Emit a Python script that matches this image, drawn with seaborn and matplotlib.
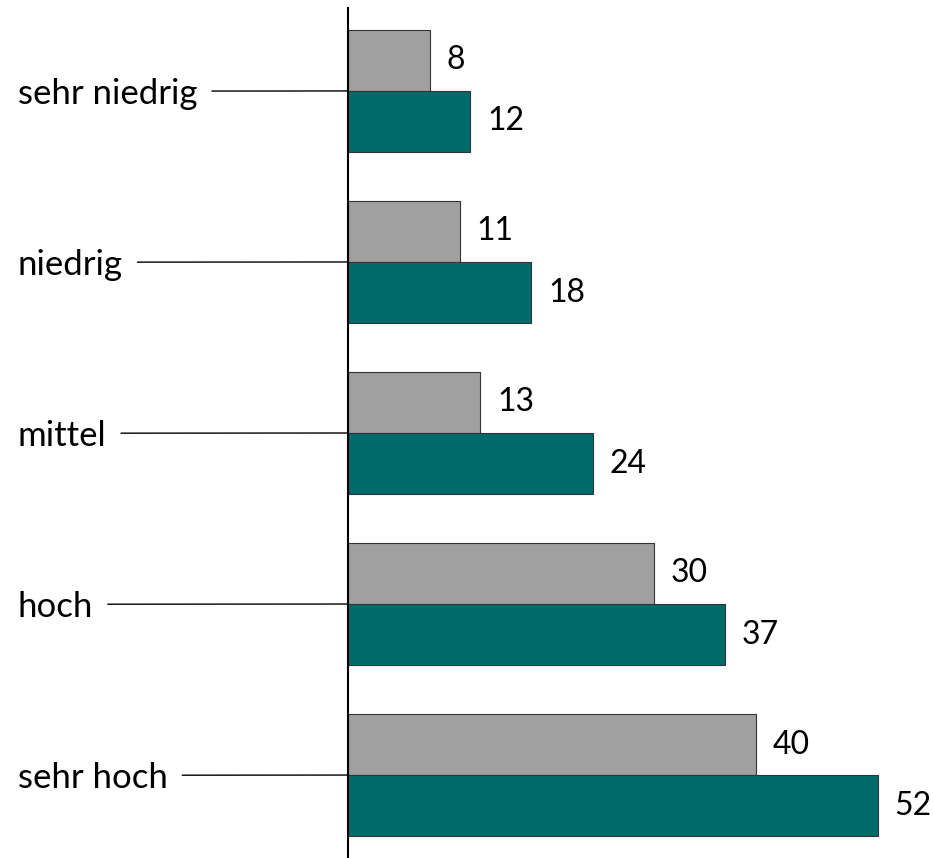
import matplotlib
matplotlib.use("Agg")
import matplotlib.pyplot as plt
import pandas as pd
import seaborn as sns

categories = ["sehr niedrig", "niedrig", "mittel", "hoch", "sehr hoch"]
series_names = ["Gruppe 1", "Gruppe 2"]
values_grau = [8, 11, 13, 30, 40]
values_teal = [12, 18, 24, 37, 52]
colors = ["#a0a0a0", "#006b6b"]

df = pd.DataFrame({
    "stufe": categories * 2,
    "wert": values_grau + values_teal,
    "gruppe": [series_names[0]] * 5 + [series_names[1]] * 5,
})

sns.set_style("white")
plt.rcParams["font.family"] = ["Lato", "DejaVu Sans"]
plt.rcParams["text.color"] = "black"

fig = plt.figure(figsize=(9.33, 8.58), dpi=100)
ax = fig.add_axes([348 / 933, 0, 1 - 348 / 933, 1 - 8 / 858])

sns.barplot(data=df, y="stufe", x="wert", hue="gruppe", orient="h",
            palette=colors, saturation=1, width=0.714, edgecolor="#333333",
            linewidth=0.8, legend=False, ax=ax)

for cont, vals in zip(ax.containers, [values_grau, values_teal]):
    ax.bar_label(cont, labels=[str(v) for v in vals], padding=12,
                 fontsize=23, color="black")

ax.set_xlim(0, 585 / 10.19)
ax.set_ylim(4.485, -0.485)
for s in ["top", "right", "bottom"]:
    ax.spines[s].set_visible(False)
ax.spines["left"].set_color("black")
ax.spines["left"].set_linewidth(1.5)
ax.set_xticks([])
ax.set_yticks([])
ax.set_xlabel("")
ax.set_ylabel("")

for i, cat in enumerate(categories):
    ax.annotate(cat, xy=(0, i), xycoords="data",
                xytext=(18, i + 0.02), textcoords=("figure pixels", "data"),
                ha="left", va="center", fontsize=25, color="black",
                arrowprops=dict(arrowstyle="-", color="black", lw=1,
                                shrinkA=8, shrinkB=0, relpos=(0.5, 0.6)),
                annotation_clip=False)

fig.savefig("out.png", dpi=100)
